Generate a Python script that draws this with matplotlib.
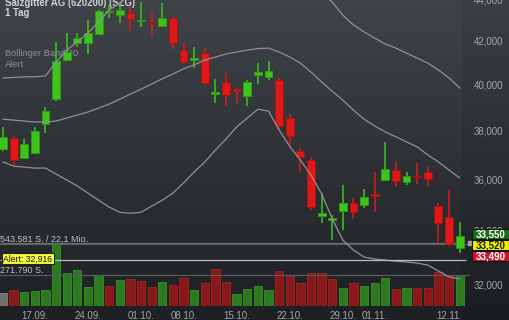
import numpy as np
import matplotlib
matplotlib.use('Agg')
import matplotlib.pyplot as plt
from matplotlib.patches import Rectangle
from matplotlib.ticker import FixedLocator, FuncFormatter, NullLocator

plt.rcParams['font.family'] = ['Liberation Sans', 'DejaVu Sans']

# trading days (Xetra, 03.10. closed)
dates = ['12.09.', '13.09.', '14.09.', '17.09.', '18.09.', '19.09.', '20.09.', '21.09.',
         '24.09.', '25.09.', '26.09.', '27.09.', '28.09.', '01.10.', '02.10.', '04.10.',
         '05.10.', '08.10.', '09.10.', '10.10.', '11.10.', '12.10.', '15.10.', '16.10.',
         '17.10.', '18.10.', '19.10.', '22.10.', '23.10.', '24.10.', '25.10.', '26.10.',
         '29.10.', '30.10.', '31.10.', '01.11.', '02.11.', '05.11.', '06.11.', '07.11.',
         '08.11.', '09.11.', '12.11.', '13.11.']
tick_dates = ['17.09.', '24.09.', '01.10.', '08.10.', '15.10.', '22.10.', '29.10.', '01.11.', '12.11.']

# OHLC in EUR
opens = [37.23, 37.69, 36.86, 37.07, 38.28, 39.36, 41.11, 41.90, 41.90, 42.32,
         43.35, 43.23, 43.32, 42.96, 42.91, 42.70, 43.08, 41.57, 41.11, 41.43,
         39.58, 40.12, 39.80, 39.49, 40.44, 40.35, 40.21, 38.54, 37.15, 36.78,
         34.55, 34.40, 34.74, 35.05, 34.97, 35.41, 35.97, 36.37, 35.89, 36.15,
         36.29, 34.94, 34.51, 33.34]
highs = [38.16, 37.78, 37.65, 38.16, 39.01, 41.95, 42.37, 42.37, 42.98, 43.47,
         43.71, 43.85, 43.61, 43.85, 43.37, 43.80, 43.13, 41.95, 41.71, 41.71,
         40.26, 40.52, 39.85, 40.21, 40.97, 41.07, 40.30, 38.71, 37.27, 36.90,
         35.45, 34.59, 35.77, 35.25, 35.61, 36.29, 37.53, 36.74, 36.29, 36.66,
         36.49, 35.05, 35.57, 34.32]
lows = [37.15, 36.53, 36.82, 37.03, 37.90, 39.28, 41.07, 41.71, 41.39, 42.27,
        43.08, 42.84, 42.46, 42.65, 42.18, 42.65, 41.62, 40.93, 40.75, 39.98,
        39.19, 39.06, 39.14, 39.06, 40.03, 40.21, 38.07, 37.32, 36.29, 34.78,
        34.29, 33.64, 34.02, 34.44, 34.86, 34.70, 35.93, 35.69, 35.77, 35.81,
        35.73, 33.57, 33.42, 33.16]
closes = [37.74, 36.78, 37.44, 37.99, 38.84, 41.07, 41.48, 42.13, 42.37, 43.42,
          43.40, 43.47, 43.03, 43.00, 42.86, 43.08, 41.90, 41.02, 41.20, 40.08,
          39.67, 39.54, 39.71, 40.10, 40.57, 40.60, 38.20, 37.78, 36.90, 34.90,
          34.67, 34.48, 35.05, 34.70, 35.29, 35.35, 36.41, 35.93, 36.13, 36.09,
          36.01, 34.29, 33.49, 33.79]
volumes = [116000, 140000, 125000, 134000, 137000, 543581, 289000, 316000, 167000, 272000,
           175000, 225000, 234000, 222000, 164000, 213000, 184000, 243000, 140000, 204000,
           322000, 213000, 108000, 149000, 178000, 137000, 307000, 266000, 204000, 289000,
           287000, 237000, 160000, 199000, 175000, 204000, 243000, 149000, 160000, 160000,
           160000, 301000, 266000, 272000]

# Bollinger band 20
bb_upper = [40.30, 40.32, 40.35, 40.35, 40.39, 41.02, 41.57, 41.95, 42.37, 42.89,
            43.47, 43.80, 44.25, 44.60, 44.85, 45.00, 45.10, 45.15, 45.15, 45.15,
            45.10, 45.10, 45.05, 45.00, 45.00, 45.00, 45.00, 45.00, 44.95, 44.70,
            44.30, 43.85, 43.22, 42.75, 42.42, 42.13, 41.85, 41.66, 41.43, 41.20,
            40.97, 40.66, 40.30, 39.85]
bb_mid = [38.49, 38.45, 38.41, 38.37, 38.37, 38.41, 38.54, 38.67, 38.80, 38.97,
          39.14, 39.36, 39.58, 39.80, 40.03, 40.26, 40.48, 40.71, 40.89, 41.11,
          41.25, 41.39, 41.48, 41.57, 41.64, 41.66, 41.48, 41.25, 40.97, 40.57,
          40.12, 39.71, 39.32, 38.88, 38.49, 38.20, 37.95, 37.74, 37.53, 37.32,
          36.99, 36.70, 36.37, 36.05]
bb_lower = [36.70, 36.53, 36.49, 36.45, 36.45, 36.21, 35.97, 35.73, 35.45, 35.17,
            34.90, 34.70, 34.66, 34.70, 34.94, 35.17, 35.45, 35.85, 36.29, 36.70,
            37.19, 37.65, 38.16, 38.54, 38.92, 38.84, 38.03, 37.34, 36.78, 36.17,
            35.42, 34.45, 33.64, 33.27, 33.01, 32.94, 32.90, 32.86, 32.83, 32.79,
            32.72, 32.50, 32.29, 32.22]

alert = 32.916
ask, last, bid = 33.55, 33.52, 33.49
vol_max = 543581
y_ticks = [32, 34, 36, 38, 40, 42, 44]

W, H = 510, 320
fig = plt.figure(figsize=(W / 100, H / 100), dpi=100)

def fx(px):
    return px / W

def fy(py):
    return 1 - py / H

# background gradient
bg = fig.add_axes([0, 0, 1, 1], zorder=0)
top = np.array([0x3f, 0x44, 0x49]) / 255
bot = np.array([0x1d, 0x20, 0x23]) / 255
g = np.linspace(0, 1, 256)[:, None, None]
img = np.repeat(top + (bot - top) * g, W, axis=1)
img[:, 462:] *= 0.93
bg.imshow(img, aspect='auto', extent=[0, 1, 0, 1], interpolation='bilinear')
bg.axis('off')

# x: candle i at pixel x0 + step*i
x0, step = 3.0, 10.62
n = len(dates)
x = np.arange(n)
xlim = ((0 - x0) / step, (470 - x0) / step)
rect = [0, fy(306), fx(470), 311 / H]

axv = fig.add_axes(rect, zorder=1)
axv.set_facecolor('none')
axv.set_xlim(*xlim)
axv.set_ylim(0, vol_max / (62 / 311))
axv.axis('off')

ax = fig.add_axes(rect, zorder=2)
ax.set_facecolor('none')
ax.set_yscale('log')
ax.set_xlim(*xlim)
ax.set_ylim(31.26, 44.20)
for s in ax.spines.values():
    s.set_visible(False)

o = np.array(opens)
c = np.array(closes)

# volume
vcol = ['#6f6f6f'] + ['#2c7a1d' if c[i] >= c[i - 1] else '#891818' for i in range(1, n)]
vedge = ['#7c7c7c'] + ['#37882a' if c[i] >= c[i - 1] else '#9a2222' for i in range(1, n)]
axv.bar(x, volumes, 0.78, color=vcol, edgecolor=vedge, lw=0.7)
axv.axhline(vol_max, color='#575b60', lw=0.9)
axv.axhline(vol_max / 2, color='#575b60', lw=0.9)

# price line, alert line
ax.hlines(last, xlim[0], (462 - x0) / step, color='#6c7075', lw=0.9, zorder=1)
ax.plot([(470 - x0) / step], [last], 's', ms=2.2, color='#a0a0a0', clip_on=False, zorder=6)
ax.hlines(alert, xlim[0], (466 - x0) / step, color='#bcbcbc', lw=0.9, zorder=6)

# candles
up = c >= o
col = np.where(up, '#40c41d', '#dc1a1a')
edge = np.where(up, '#2e9a14', '#a81313')
ax.vlines(x, lows, highs, colors=col, lw=1.1, zorder=3)
ax.bar(x, np.abs(c - o), 0.74, bottom=np.minimum(o, c), color=col, edgecolor=edge, lw=0.7, zorder=4)

# bands
for band in (bb_upper, bb_mid, bb_lower):
    ax.plot(x, band, color='#8e9297', lw=0.9, zorder=5)

# axes ticks
ax.yaxis.tick_right()
ax.yaxis.set_major_locator(FixedLocator(y_ticks))
ax.yaxis.set_minor_locator(NullLocator())
ax.yaxis.set_major_formatter(FuncFormatter(lambda v, p: f"{v:.3f}".replace('.', ',')))
ax.set_xticks([dates.index(d) for d in tick_dates])
ax.set_xticklabels(tick_dates)
ax.tick_params(axis='y', length=0, pad=3, labelsize=7, colors='#a3a7ab')
ax.tick_params(axis='x', length=0, pad=3.5, labelsize=7, colors='#a3a7ab')

# texts under candles
ax.text(fx(5), fy(6), 'Salzgitter AG (620200) (SZG)', transform=fig.transFigure,
        fontsize=6.9, fontweight='bold', color='#d0d2d4', va='baseline', zorder=1)
ax.text(fx(5), fy(15.5), '1 Tag', transform=fig.transFigure,
        fontsize=6.9, fontweight='bold', color='#d0d2d4', va='baseline', zorder=1)
ax.text(fx(5), fy(55.5), 'Bollinger Band 20', transform=fig.transFigure,
        fontsize=6.7, color='#8d9196', va='baseline', zorder=1)
ax.text(fx(5), fy(67), 'Alert', transform=fig.transFigure,
        fontsize=6.7, color='#8d9196', va='baseline', zorder=1)

fig.text(fx(0.5), fy(241.5), f"{vol_max:,} S. / 22,1 Mio.".replace(',', '.').replace('22.1', '22,1'),
         fontsize=6.5, color='#bfc2c5', va='baseline', zorder=6)
fig.text(fx(0.5), fy(273.3), f"{vol_max // 2:,} S.".replace(',', '.'),
         fontsize=6.5, color='#bfc2c5', va='baseline', zorder=6)

# alert label
fig.add_artist(Rectangle((fx(2), fy(263.5)), fx(52), 10.5 / H, transform=fig.transFigure,
                         facecolor='#fafa3c', edgecolor='#222222', lw=0.8, zorder=5))
fig.text(fx(28), fy(262), 'Alert: ' + f"{alert:.3f}".replace('.', ','), ha='center',
         fontsize=6.2, color='#111111', va='baseline', zorder=6)

# quote boxes on the right
boxes = [(ask, 229.3, '#166e16', 'white'), (last, 240.0, '#f2f200', '#1a1a1a'), (bid, 251.0, '#d0142a', 'white')]
for val, ytop, fc, tc in boxes:
    fig.add_artist(Rectangle((fx(472), fy(ytop + 9.6)), fx(37), 9.6 / H, transform=fig.transFigure,
                             facecolor=fc, edgecolor='#111111', lw=0.8, zorder=5))
    fig.text(fx(490.5), fy(ytop + 8.3), f"{val:.3f}".replace('.', ','), ha='center',
             fontsize=7, fontweight='bold', color=tc, va='baseline', zorder=6)

fig.savefig('out.png', dpi=100)
